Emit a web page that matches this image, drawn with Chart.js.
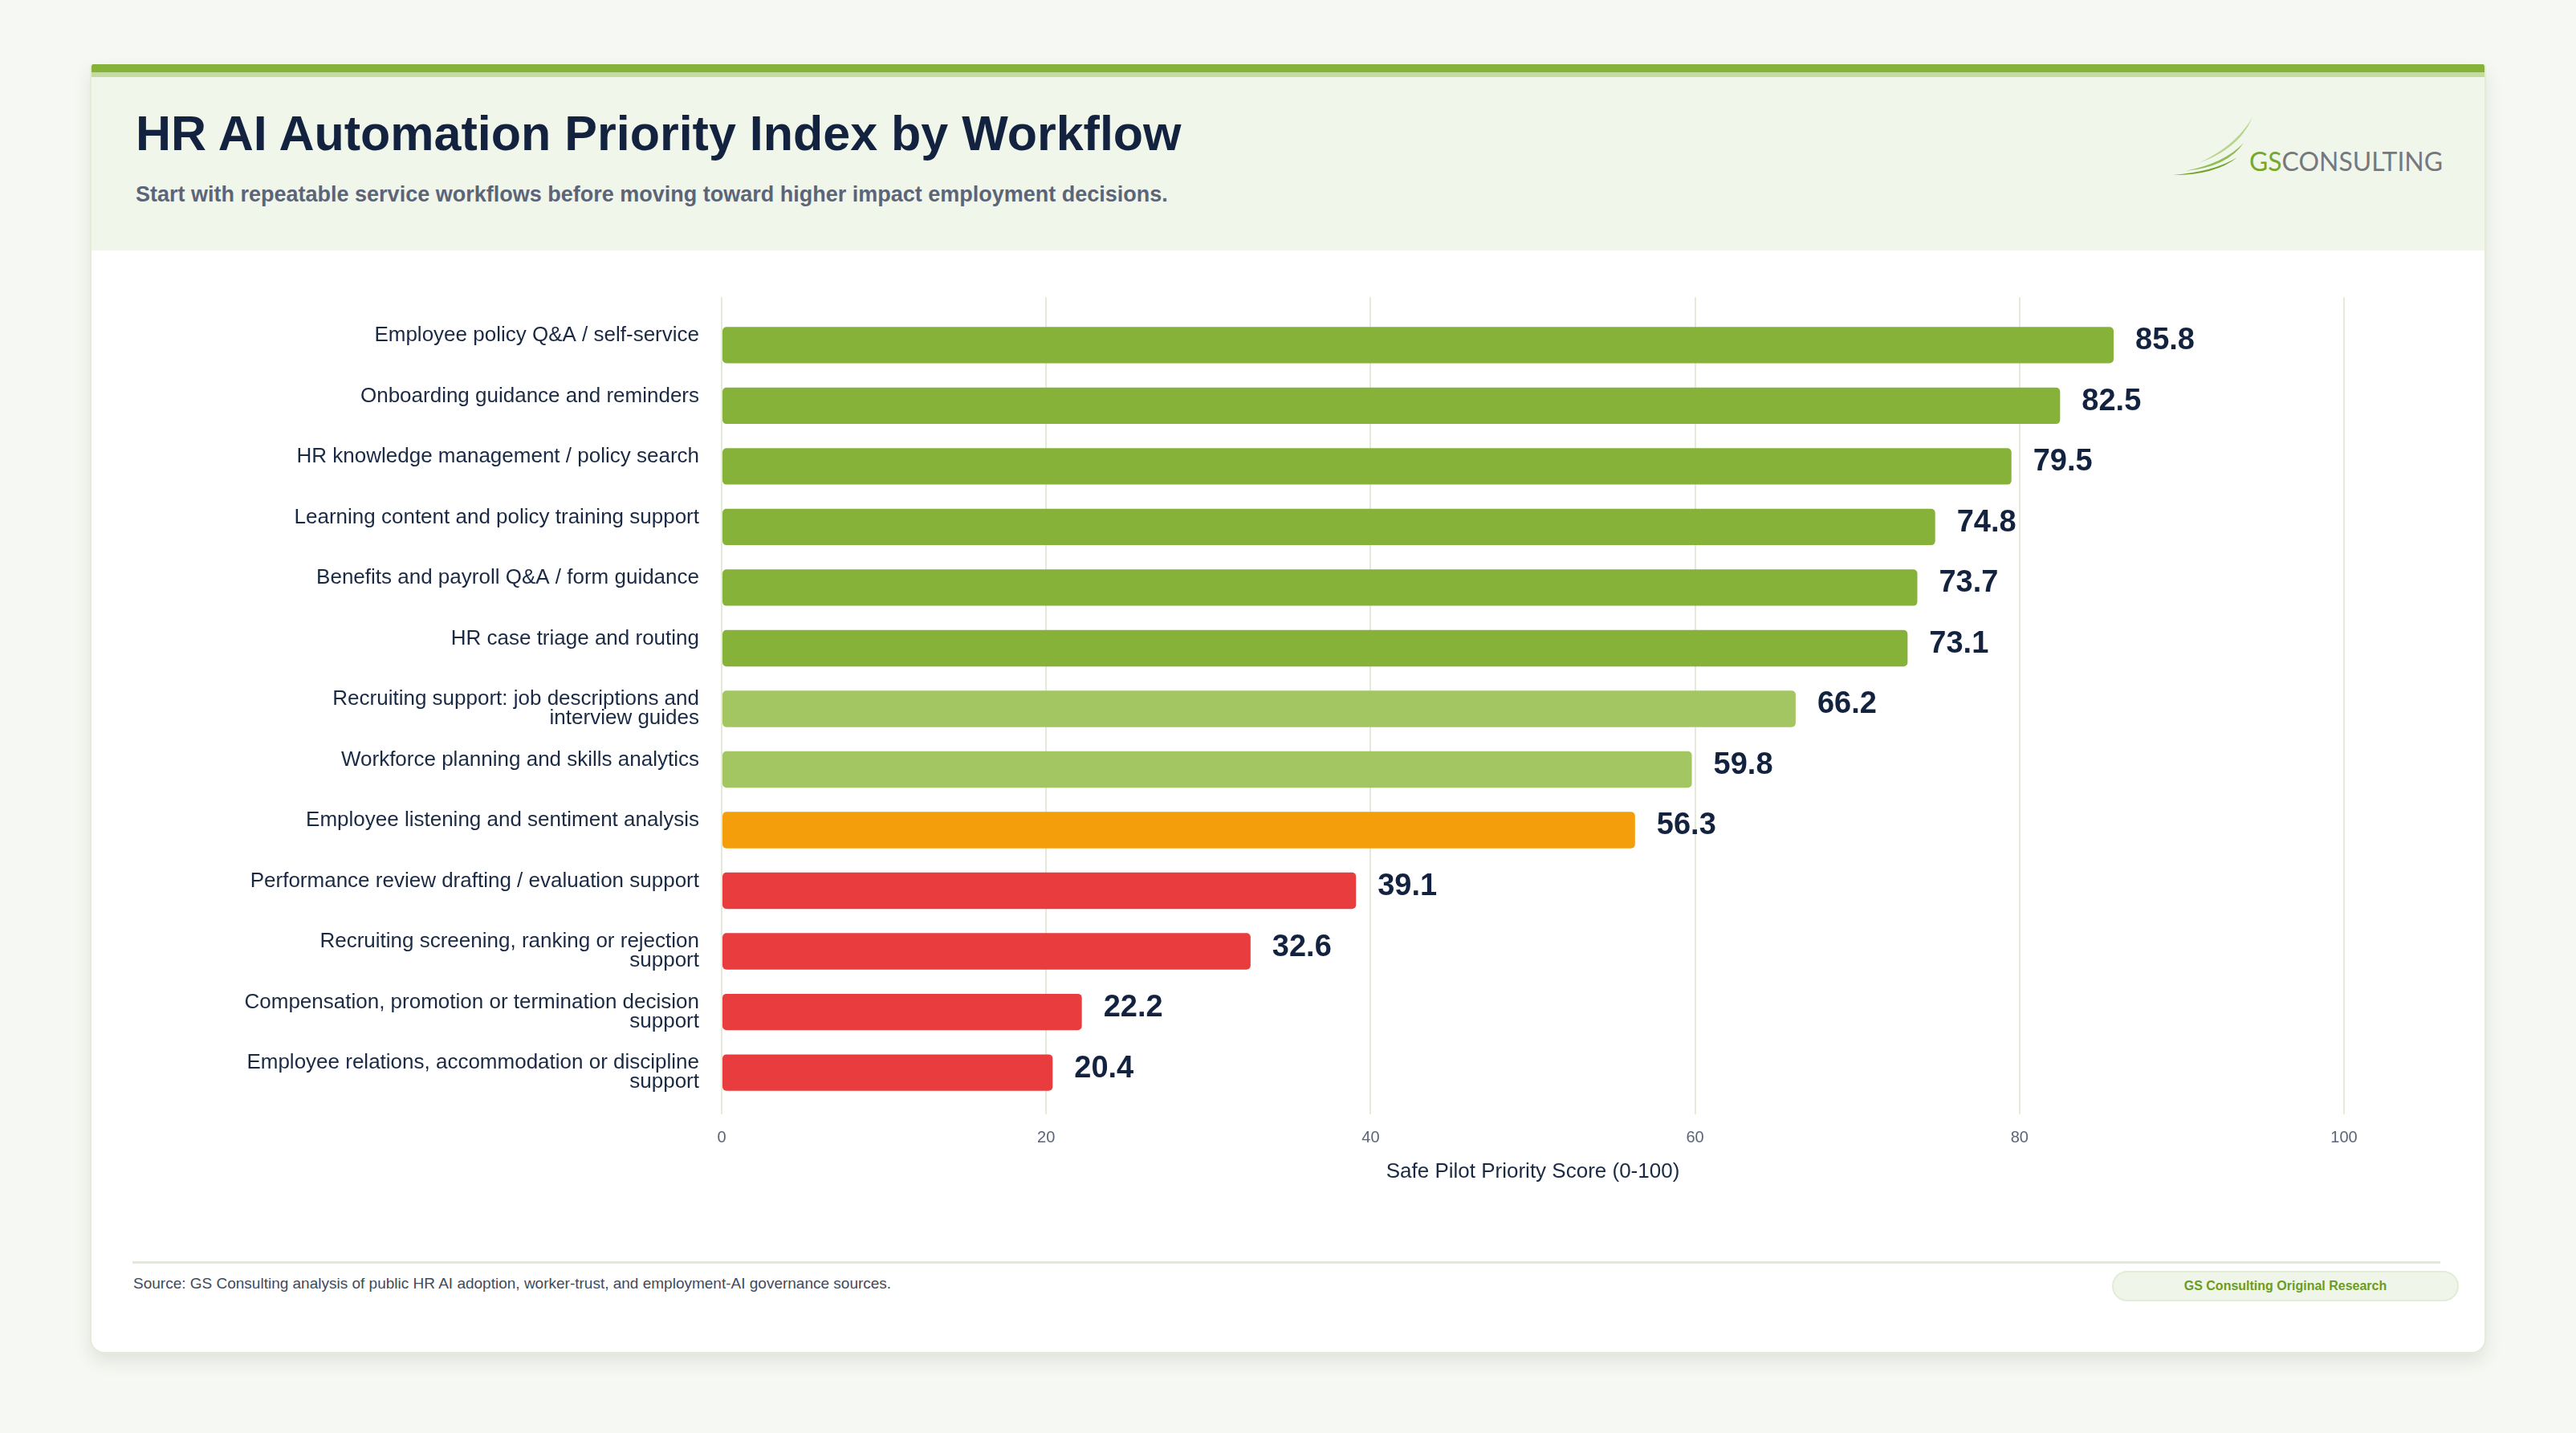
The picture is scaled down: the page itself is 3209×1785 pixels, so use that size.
<!DOCTYPE html>
<html>
<head>
<meta charset="utf-8">
<title>HR AI Automation Priority Index by Workflow</title>
<script src="https://cdn.jsdelivr.net/npm/chart.js@4.4.1/dist/chart.umd.min.js"></script>
<style>
  html, body {
    margin: 0;
    padding: 0;
    width: 3209px;
    height: 1785px;
    background: #f6f8f3;
    font-family: "Liberation Sans", Arial, Helvetica, sans-serif;
    overflow: hidden;
  }
  .card {
    position: absolute;
    left: 112px;
    top: 80px;
    width: 2985px;
    height: 1606px;
    background: #ffffff;
    border-radius: 4px 4px 18px 18px;
    box-shadow: 0 10px 22px rgba(40, 50, 30, 0.10);
    box-sizing: border-box;
    border: 2px solid #e4ecd9;
    border-top: none;
    overflow: hidden;
  }
  .topbar {
    position: absolute; left: 0; top: 0; right: 0;
    height: 10px; background: #86b239;
  }
  .topbar2 {
    position: absolute; left: 0; top: 10px; right: 0;
    height: 6px; background: #c4db9f;
  }
  .header {
    position: absolute; left: 0; top: 16px; right: 0;
    height: 216px; background: #f1f6eb;
  }
  .title {
    position: absolute;
    left: 169px;
    top: 136px;
    font-size: 61px;
    line-height: 61px;
    font-weight: bold;
    color: #13233f;
    white-space: nowrap;
  }
  .subtitle {
    position: absolute;
    left: 169px;
    top: 229px;
    font-size: 27px;
    line-height: 27px;
    font-weight: bold;
    color: #5b6577;
    white-space: nowrap;
  }
  .logo {
    position: absolute;
    left: 2690px;
    top: 130px;
  }
  .chart-box {
    position: absolute;
    left: 140px;
    top: 340px;
    width: 2920px;
    height: 1159px;
  }
  .footer-line {
    position: absolute;
    left: 165px;
    top: 1571px;
    width: 2875px;
    height: 3px;
    background: #dfead2;
  }
  .source {
    position: absolute;
    left: 166px;
    top: 1589px;
    font-size: 19px;
    line-height: 19px;
    color: #3f4a5c;
    white-space: nowrap;
  }
  .badge {
    position: absolute;
    left: 2631px;
    top: 1583px;
    width: 432px;
    height: 38px;
    box-sizing: border-box;
    border: 2px solid #e2ecd6;
    border-radius: 19px;
    background: #eff5e8;
    color: #6b9c22;
    font-size: 16px;
    font-weight: bold;
    line-height: 34px;
    text-align: center;
  }
</style>
</head>
<body>
<div class="card">
  <div class="topbar"></div>
  <div class="topbar2"></div>
  <div class="header"></div>
</div>
<div class="title">HR AI Automation Priority Index by Workflow</div>
<div class="subtitle">Start with repeatable service workflows before moving toward higher impact employment decisions.</div>

<svg class="logo" width="380" height="100" viewBox="0 0 380 100">
  <path d="M17,88 Q70,88 97,66 Q68,84 17,88 Z" fill="#6fa22a"/>
  <path d="M32,83 Q85,78 105,48 Q80,74 32,83 Z" fill="#8fbd52"/>
  <path d="M49,73 Q100,55 116,16 Q95,52 49,73 Z" fill="#b7d590"/>
  <text x="112" y="83" font-family="Lato, 'Open Sans', sans-serif" font-size="33" textLength="241" lengthAdjust="spacingAndGlyphs"><tspan fill="#77a82c">GS</tspan><tspan fill="#76787c">CONSULTING</tspan></text>
</svg>

<div class="chart-box"><canvas id="priorityChart"></canvas></div>

<div class="footer-line"></div>
<div class="source">Source: GS Consulting analysis of public HR AI adoption, worker-trust, and employment-AI governance sources.</div>
<div class="badge">GS Consulting Original Research</div>

<script>
// Workflows (already wrapped the way the labels appear)
const categories = [
  ["Employee policy Q&A / self-service"],
  ["Onboarding guidance and reminders"],
  ["HR knowledge management / policy search"],
  ["Learning content and policy training support"],
  ["Benefits and payroll Q&A / form guidance"],
  ["HR case triage and routing"],
  ["Recruiting support: job descriptions and", "interview guides"],
  ["Workforce planning and skills analytics"],
  ["Employee listening and sentiment analysis"],
  ["Performance review drafting / evaluation support"],
  ["Recruiting screening, ranking or rejection", "support"],
  ["Compensation, promotion or termination decision", "support"],
  ["Employee relations, accommodation or discipline", "support"]
];

const scores = [85.8, 82.5, 79.5, 74.8, 73.7, 73.1, 66.2, 59.8, 56.3, 39.1, 32.6, 22.2, 20.4];

// readiness tier per workflow
const tiers = ["ready", "ready", "ready", "ready", "ready", "ready",
  "pilot", "pilot", "caution", "risk", "risk", "risk", "risk"];

const xTicks = [0, 20, 40, 60, 80, 100];
const xTitle = "Safe Pilot Priority Score (0-100)";

const tierColors = {
  ready: "#86b239",
  pilot: "#a4c662",
  caution: "#f59e0b",
  risk: "#e83c3e"
};

const FONT = '"Liberation Sans", Arial, Helvetica, sans-serif';
Chart.defaults.font.family = FONT;

// single line labels get an empty 2nd line so they sit at the top of the bar
const yLabels = categories.map(function (lines) {
  return lines.length > 1 ? lines : [lines[0], ""];
});

const gridColor = "#e3ead9";

// value at the end of each bar
const valueLabels = {
  id: "valueLabels",
  afterDatasetsDraw: function (chart) {
    const ctx = chart.ctx;
    const meta = chart.getDatasetMeta(0);
    ctx.save();
    ctx.font = "bold 38px " + FONT;
    ctx.fillStyle = "#13233f";
    ctx.textAlign = "left";
    ctx.textBaseline = "middle";
    meta.data.forEach(function (bar, i) {
      ctx.fillText(scores[i].toFixed(1), bar.x + 27, bar.y - 5);
    });
    ctx.restore();
  }
};

const ctx = document.getElementById("priorityChart").getContext("2d");
const priorityChart = new Chart(ctx, {
  type: "bar",
  data: {
    labels: yLabels,
    datasets: [
      {
        data: scores,
        backgroundColor: tiers.map(function (t) { return tierColors[t]; }),
        borderRadius: 5,
        borderSkipped: false,
        categoryPercentage: 0.6,
        barPercentage: 1.0
      }
    ]
  },
  options: {
    indexAxis: "y",
    responsive: true,
    maintainAspectRatio: false,
    devicePixelRatio: 1,
    animation: false,
    layout: {
      padding: { top: 29, right: 140, bottom: 8, left: 0 }
    },
    plugins: {
      legend: { display: false },
      tooltip: { enabled: false }
    },
    scales: {
      x: {
        position: "bottom",
        min: 0,
        max: 100,
        afterBuildTicks: function (scale) {
          scale.ticks = xTicks.map(function (v) { return { value: v }; });
        },
        grid: {
          color: gridColor,
          lineWidth: 2,
          drawTicks: true,
          tickLength: 14
        },
        border: { display: false },
        ticks: {
          color: "#5b6577",
          padding: 18,
          font: { size: 20 }
        },
        title: {
          display: true,
          text: xTitle,
          color: "#1b2a44",
          font: { size: 26 },
          padding: { top: -4, bottom: 16 }
        }
      },
      // only used to run the grid lines a little above the first bar
      xTop: {
        position: "top",
        type: "linear",
        min: 0,
        max: 100,
        afterBuildTicks: function (scale) {
          scale.ticks = xTicks.map(function (v) { return { value: v }; });
        },
        grid: {
          color: gridColor,
          lineWidth: 2,
          drawTicks: true,
          tickLength: 22
        },
        border: { display: false },
        ticks: { display: false }
      },
      y: {
        afterFit: function (scale) {
          scale.width = 759;
        },
        grid: { display: false, drawTicks: false },
        border: { display: false },
        ticks: {
          color: "#1b2a44",
          padding: 28,
          font: { size: 26, lineHeight: 0.93 }
        }
      }
    }
  },
  plugins: [valueLabels]
});
</script>
</body>
</html>
